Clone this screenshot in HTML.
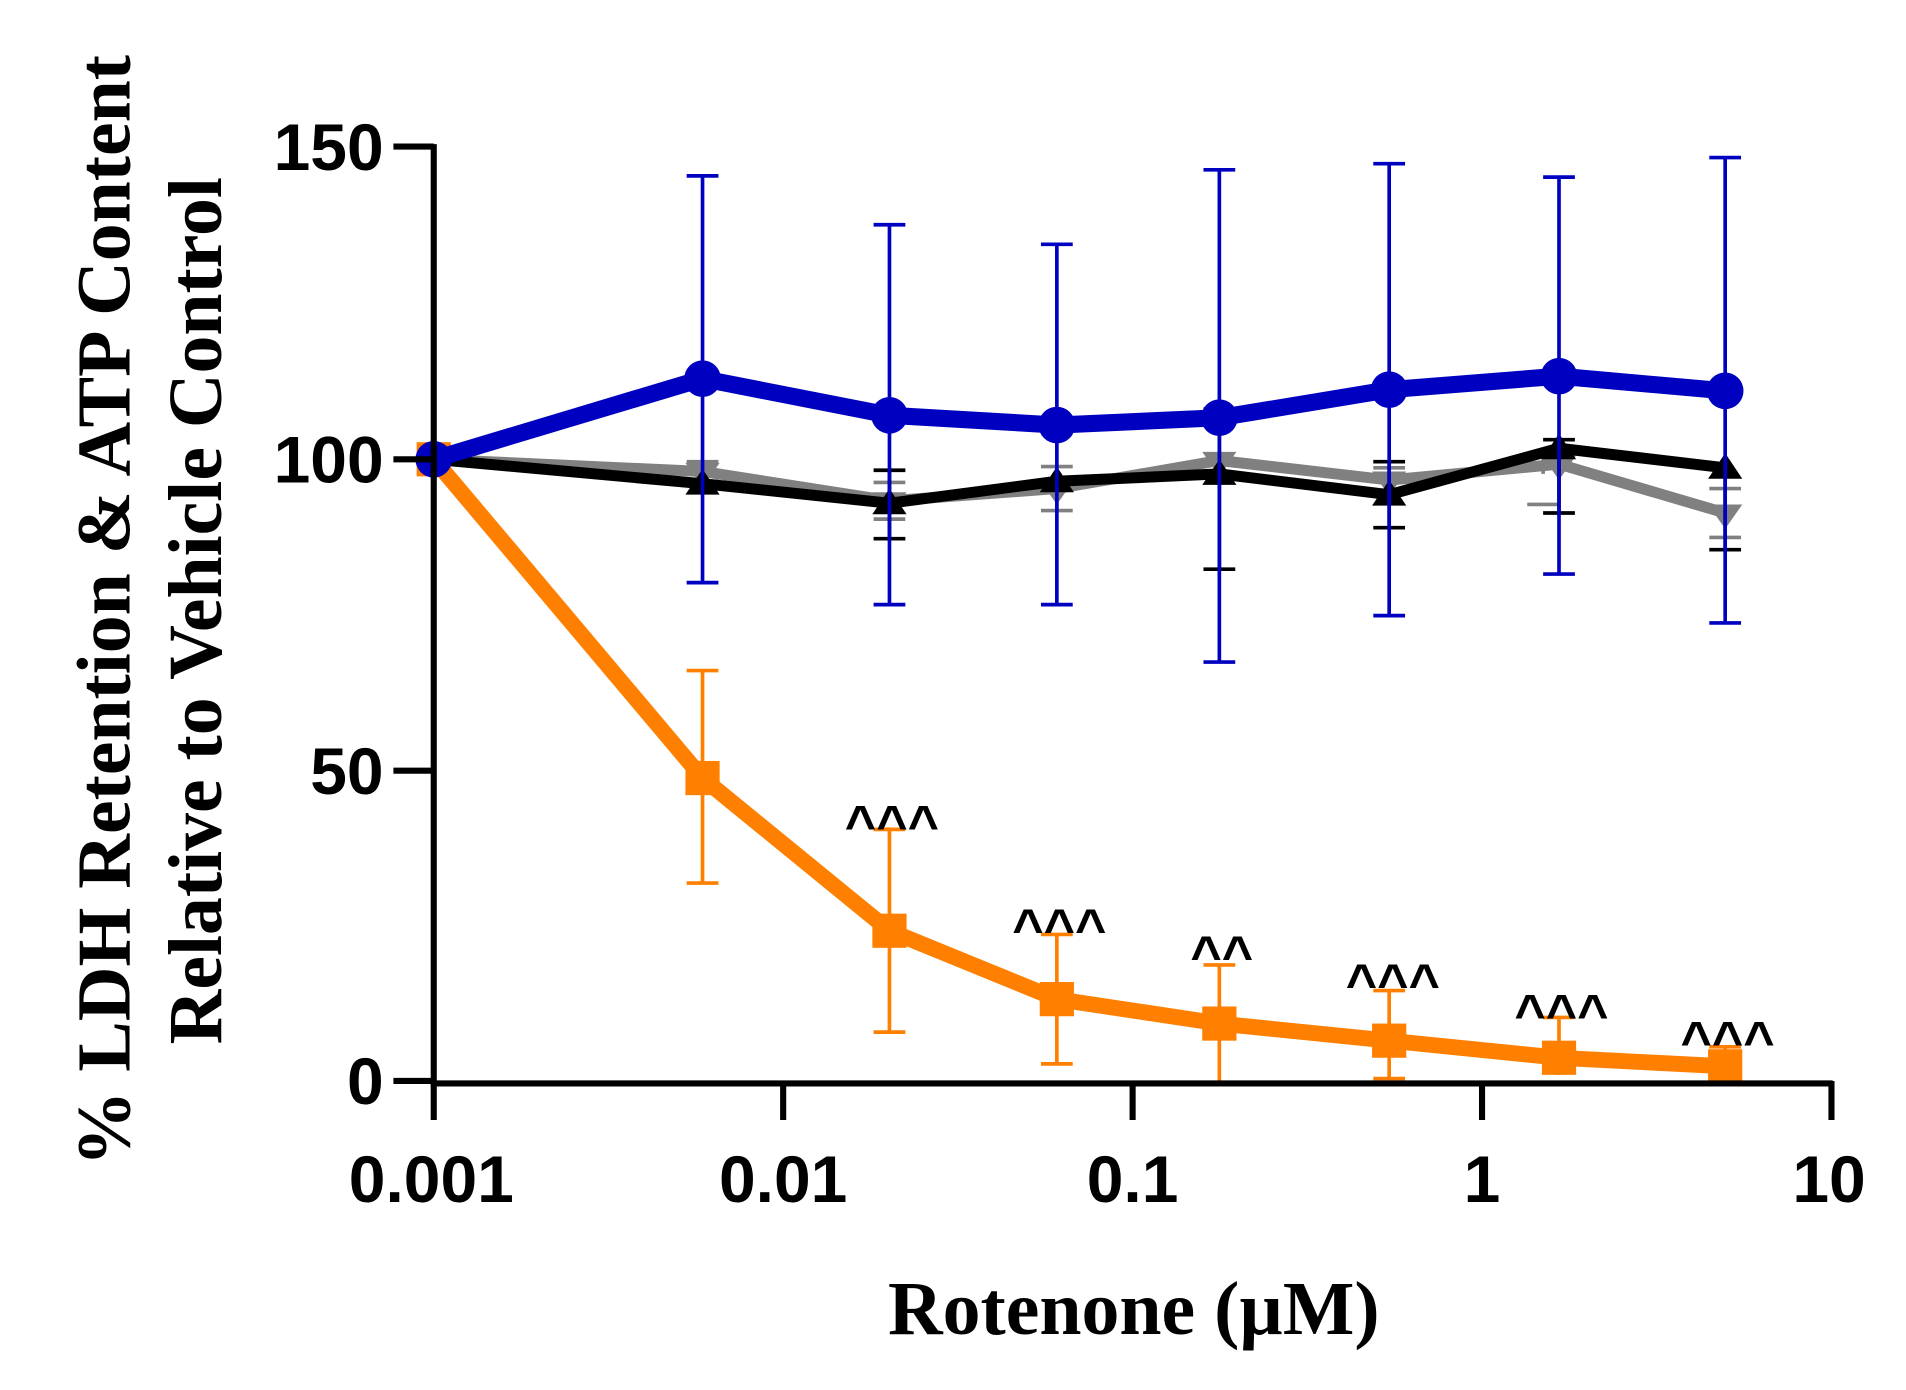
<!DOCTYPE html>
<html><head><style>html,body{margin:0;padding:0;background:#fff}svg{display:block}</style></head>
<body>
<svg width="1906" height="1390" viewBox="0 0 1560 1138" preserveAspectRatio="none" xmlns="http://www.w3.org/2000/svg">
<g fill="none" stroke-linecap="butt">
<g stroke="#808080" stroke-width="3">
<path d="M575 378v16M562 378h26M562 394h26M728 395v30M715 395h26M715 425h26M865 382v36M852 382h26M852 418h26M998 368v18M1137 383v20M1124 383h26M1263 372v16M1250 372h26M1250 413h26M1412 400v40M1399 400h26M1399 440h26"/>
</g>
<polyline stroke="#808080" stroke-width="9" points="355,376 575,386 728,410 865,400 998,377 1137,393 1276,380 1412,420"/>
<g fill="#808080"><path d="M561 379h28l-14 20z"/><path d="M714 403h28l-14 20z"/><path d="M851 393h28l-14 20z"/><path d="M984 370h28l-14 20z"/><path d="M1123 386h28l-14 20z"/><path d="M1262 373h28l-14 20z"/><path d="M1398 413h28l-14 20z"/></g>
<g stroke="#000" stroke-width="3">
<path d="M728 385v56M715 385h26M715 441h26M998 335v131M985 335h26M985 466h26M1137 378v54M1124 378h26M1124 432h26M1276 360v60M1263 360h26M1263 420h26M1412 386v64M1399 450h26M865 386v14M575 388v16"/>
</g>
<polyline stroke="#000" stroke-width="9" points="355,376 575,396 728,412 865,394 998,388 1137,405 1276,367 1412,383"/>
<g fill="#000"><path d="M575 384l14 21h-28z"/><path d="M728 400l14 21h-28z"/><path d="M865 382l14 21h-28z"/><path d="M998 376l14 21h-28z"/><path d="M1137 393l14 21h-28z"/><path d="M1276 355l14 21h-28z"/><path d="M1412 371l14 21h-28z"/></g>
<g stroke="#ff8000" stroke-width="3">
<path d="M575 549v174M562 549h26M562 723h26M728 679v166M715 679h26M715 845h26M865 765v106M852 765h26M852 871h26M998 790v95M985 790h26M1137 811v72M1124 811h26M1124 883h26M1276 833v47M1263 833h26M1412 857v28M1399 857h26"/>
</g>
<polyline stroke="#ff8000" stroke-width="13" stroke-linejoin="round" points="355,376 575,637 728,762 865,818 998,838 1137,852 1276,866 1412,873"/>
<g fill="#ff8000"><rect x="341" y="362" width="28" height="28"/><rect x="561" y="623" width="28" height="28"/><rect x="714" y="748" width="28" height="28"/><rect x="851" y="804" width="28" height="28"/><rect x="984" y="824" width="28" height="28"/><rect x="1123" y="838" width="28" height="28"/><rect x="1262" y="852" width="28" height="28"/><rect x="1398" y="859" width="28" height="28"/></g>
<g stroke="#0000c0" stroke-width="3">
<path d="M575 144v333M562 144h26M562 477h26M728 184v311M715 184h26M715 495h26M865 200v295M852 200h26M852 495h26M998 139v403M985 139h26M985 542h26M1137 134v370M1124 134h26M1124 504h26M1276 145v325M1263 145h26M1263 470h26M1412 129v381M1399 129h26M1399 510h26"/>
</g>
<polyline stroke="#0000c0" stroke-width="14" stroke-linejoin="round" points="355,376 575,310 728,340 865,348 998,342 1137,319 1276,308 1412,320"/>
<g fill="#0000c0"><circle cx="355" cy="376" r="15"/><circle cx="575" cy="310" r="15"/><circle cx="728" cy="340" r="15"/><circle cx="865" cy="348" r="15"/><circle cx="998" cy="342" r="15"/><circle cx="1137" cy="319" r="15"/><circle cx="1276" cy="308" r="15"/><circle cx="1412" cy="320" r="15"/></g>
<g stroke="#000" stroke-width="5">
<path d="M355 118V887H1500"/>
<path d="M322 120h33M322 376h33M322 631h33M322 885h33"/>
<path d="M355 885v32M641 885v32M927 885v32M1213 885v32M1499 885v32"/>
</g>
</g>
<g font-family="Liberation Sans, Arial, sans-serif" font-weight="bold" font-size="54" fill="#000">
<g text-anchor="end"><text x="314" y="139">150</text><text x="314" y="395">100</text><text x="314" y="650">50</text><text x="314" y="904">0</text></g>
<g text-anchor="middle"><text x="353" y="984">0.001</text><text x="641" y="984">0.01</text><text x="927" y="984">0.1</text><text x="1213" y="984">1</text><text x="1497" y="984">10</text></g>
<g font-size="44" text-anchor="middle"><text x="730" y="690">^^^</text><text x="867" y="775">^^^</text><text x="1000" y="797">^^</text><text x="1140" y="820">^^^</text><text x="1278" y="845">^^^</text><text x="1414" y="867">^^^</text></g>
</g>
<g font-family="Liberation Serif, Times New Roman, serif" font-weight="bold" fill="#000" text-anchor="middle">
<text x="928" y="1092" font-size="62">Rotenone (µM)</text>
<text transform="translate(106,500) rotate(-90)" font-size="62">% LDH Retention &amp; ATP Content</text>
<text transform="translate(181,500) rotate(-90)" font-size="62">Relative to Vehicle Control</text>
</g>
</svg>
</body></html>
